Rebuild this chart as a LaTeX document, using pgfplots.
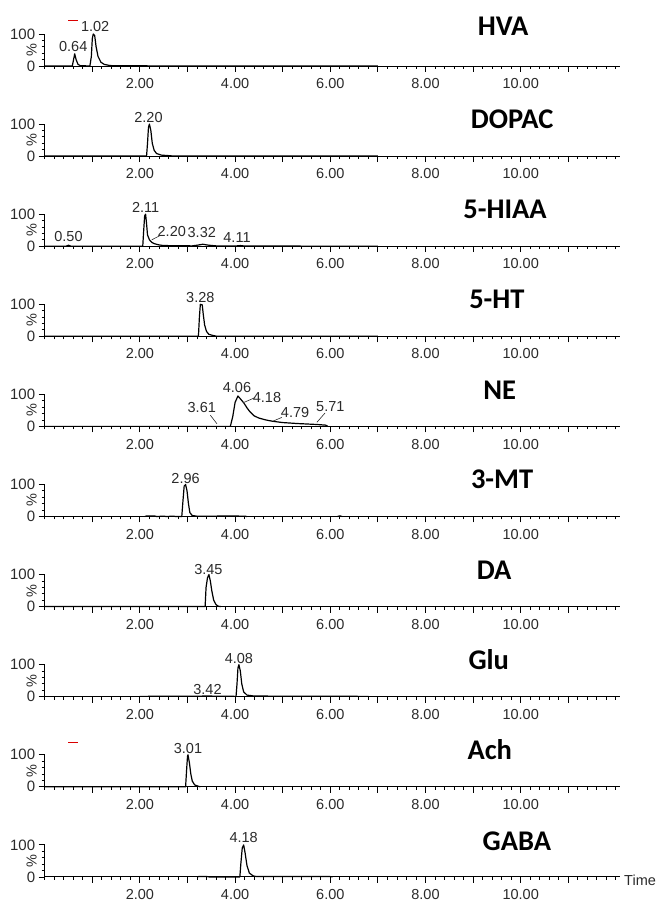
\documentclass[border=0pt]{standalone}
\usepackage{pgfplots}
\pgfplotsset{compat=1.18}
\usepackage{fontspec}
\setmainfont{Liberation Sans}
\newfontfamily\titlefont{Carlito}
\definecolor{txt}{HTML}{2A2A2A}
\newcommand{\lblfont}{\fontsize{14.5}{14.5}\selectfont}
\pgfplotsset{chrom/.style={
  scale only axis, width=575pt, height=32pt,
  xmin=0, xmax=12.08, ymin=0, ymax=100,
  axis x line=bottom, axis y line=left,
  axis line style={-, line width=0.9pt, black},
  y axis line style={-, line width=0.9pt, black},
  clip=false, anchor=south west,
  /pgf/number format/assume math mode=true,
  xtick={1,2,...,11}, xticklabels={,2.00,,4.00,,6.00,,8.00,,10.00,},
  minor xtick={0,0.2,...,12},
  ytick={0,100}, yticklabels={0,100}, minor ytick={20,40,60,80},
  tick align=outside,
  major tick length=6pt, minor tick length=3pt,
  every tick/.style={line width=0.8pt, black},
  xticklabel style={font=\lblfont, text=txt, yshift=-3pt},
  yticklabel style={font=\fontsize{15}{15}\selectfont, text=txt},
}}
\newcommand{\ttl}[3]{\node[anchor=base, font=\titlefont\bfseries\fontsize{28.5}{28.5}\selectfont] at (axis cs:#1,#2) {#3};}
\newcommand{\pk}[3]{\node[font=\lblfont, text=txt, inner sep=0pt] at (axis cs:#1,#2) {#3};}
\newcommand{\pct}{\node[xshift=-13pt, rotate=90, font=\lblfont, text=txt, inner sep=0pt] at (rel axis cs:0,0.5) {\%};}
\tikzset{trace/.style={black, line width=1.2pt, line join=round}}
\begin{document}
\begin{tikzpicture}
\useasboundingbox (0,0) rectangle (656pt,902pt);
% HVA
\begin{axis}[chrom, at={(44.7pt,836pt)}]
\addplot[trace] coordinates {(0,0)(0.58,0)(0.6,15)(0.63,38)(0.66,20)(0.7,5)(0.75,1)(0.95,0)(0.98,30)(1.0,85)(1.02,100)(1.05,95)(1.08,60)(1.12,30)(1.18,12)(1.25,5)(1.35,2)(1.45,0.5)(7.0,0)};
\addplot[red!85!black, line width=1pt] coordinates {(0.5,141)(0.71,141)};
\pk{0.6}{60}{0.64}
\pk{1.06}{122}{1.02}
\ttl{9.63}{94}{HVA}
\pct
\end{axis}
% DOPAC
\begin{axis}[chrom, at={(44.7pt,745.9pt)}]
\addplot[trace] coordinates {(0,0)(2.14,0)(2.16,40)(2.18,90)(2.2,100)(2.23,80)(2.26,40)(2.3,18)(2.35,8)(2.45,3)(2.55,2)(2.65,1)(2.7,0)(7.0,0)};
\pk{2.18}{122}{2.20}
\ttl{9.82}{86}{DOPAC}
\pct
\end{axis}
% 5-HIAA
\begin{axis}[chrom, at={(44.7pt,655.8pt)}]
\addplot[trace] coordinates {(0,0)(0.45,0)(0.5,3)(0.55,0)(2.06,0)(2.08,50)(2.1,95)(2.12,100)(2.14,70)(2.16,35)(2.2,20)(2.25,12)(2.3,8)(2.4,4)(2.5,2)(3.1,1)(3.2,3)(3.32,6)(3.45,3)(3.6,1)(4.0,0.5)(4.11,2)(4.2,0.5)(7.0,0)};
\draw[txt, line width=0.6pt] (axis cs:2.25,20) -- (axis cs:2.42,33);
\pk{0.5}{29}{0.50}
\pk{2.12}{122}{2.11}
\pk{2.67}{45}{2.20}
\pk{3.3}{42}{3.32}
\pk{4.04}{26}{4.11}
\ttl{9.67}{86}{5-HIAA}
\pct
\end{axis}
% 5-HT
\begin{axis}[chrom, at={(44.7pt,565.7pt)}]
\addplot[trace] coordinates {(0,0)(3.23,0)(3.25,60)(3.27,100)(3.31,98)(3.33,70)(3.36,35)(3.4,15)(3.45,6)(3.55,2)(3.62,0)(7.0,0)};
\pk{3.27}{122}{3.28}
\ttl{9.5}{86}{5-HT}
\pct
\end{axis}
% NE
\begin{axis}[chrom, at={(44.7pt,475.6pt)}]
\addplot[trace] coordinates {(0,0)(3.9,0)(3.95,30)(4.0,75)(4.06,95)(4.1,88)(4.18,74)(4.25,58)(4.3,48)(4.4,33)(4.5,26)(4.65,20)(4.79,16)(5.0,12)(5.3,9)(5.71,6)(5.9,4)(5.95,0)};
\draw[txt, line width=0.6pt] (axis cs:3.48,35) -- (axis cs:3.62,8);
\draw[txt, line width=0.6pt] (axis cs:4.17,74) -- (axis cs:4.42,90);
\draw[txt, line width=0.6pt] (axis cs:4.79,16) -- (axis cs:4.98,28);
\draw[txt, line width=0.6pt] (axis cs:5.72,13) -- (axis cs:5.89,42);
\pk{3.3}{58}{3.61}
\pk{4.04}{122}{4.06}
\pk{4.67}{90}{4.18}
\pk{5.26}{42}{4.79}
\pk{6.0}{61}{5.71}
\ttl{9.56}{84}{NE}
\pct
\end{axis}
% 3-MT
\begin{axis}[chrom, at={(44.7pt,385.5pt)}]
\addplot[trace] coordinates {(2.1,0)(2.15,2)(2.3,2)(2.35,0)(2.5,1)(2.55,0)(2.7,1)(2.75,0)(2.88,0)(2.9,40)(2.93,95)(2.96,100)(2.99,80)(3.02,40)(3.05,12)(3.1,3)(3.2,1)(3.6,1)(3.7,2)(4.2,1)(4.25,0)};
\addplot[trace] coordinates {(6.15,0)(6.2,2)(6.25,0)};
\pk{2.96}{120}{2.96}
\ttl{9.61}{86}{3-MT}
\pct
\end{axis}
% DA
\begin{axis}[chrom, at={(44.7pt,295.4pt)}]
\addplot[trace] coordinates {(0,0)(3.37,0)(3.39,60)(3.42,90)(3.45,100)(3.48,80)(3.51,50)(3.55,20)(3.6,6)(3.65,1)(3.7,0)};
\pk{3.44}{116}{3.45}
\ttl{9.44}{86}{DA}
\pct
\end{axis}
% Glu
\begin{axis}[chrom, at={(44.7pt,205.3pt)}]
\addplot[trace] coordinates {(2.0,0)(2.0,1)(3.0,1.5)(3.42,2)(3.8,1.5)(4.02,1)(4.04,40)(4.06,90)(4.08,100)(4.11,80)(4.14,40)(4.18,15)(4.25,5)(4.4,2)(5.5,1.5)(6.8,1)(6.8,0)};
\pk{3.42}{24}{3.42}
\pk{4.08}{120}{4.08}
\ttl{9.33}{86}{Glu}
\pct
\end{axis}
% Ach
\begin{axis}[chrom, at={(44.7pt,115.2pt)}]
\addplot[trace] coordinates {(0,0)(2.96,0)(2.98,50)(3.0,95)(3.01,100)(3.04,75)(3.07,40)(3.1,18)(3.15,6)(3.22,2)(3.27,0)};
\addplot[red!85!black, line width=1pt] coordinates {(0.5,139)(0.71,139)};
\pk{3.01}{120}{3.01}
\ttl{9.35}{86}{Ach}
\pct
\end{axis}
% GABA
\begin{axis}[chrom, at={(44.7pt,25.1pt)}]
\addplot[trace] coordinates {(3.2,0)(3.25,1.5)(3.4,1.5)(3.45,0)(4.1,0)(4.12,40)(4.15,90)(4.18,100)(4.21,75)(4.25,35)(4.3,12)(4.38,3)(4.45,1)(5.0,1)(5.5,1.5)(6.0,1)(6.05,0)};
\pk{4.18}{122}{4.18}
\ttl{9.92}{81}{GABA}
\pct
\node[anchor=west, font=\lblfont, text=txt] at (rel axis cs:1,0) [xshift=1pt, yshift=-3pt] {Time};
\end{axis}
\end{tikzpicture}
\end{document}
